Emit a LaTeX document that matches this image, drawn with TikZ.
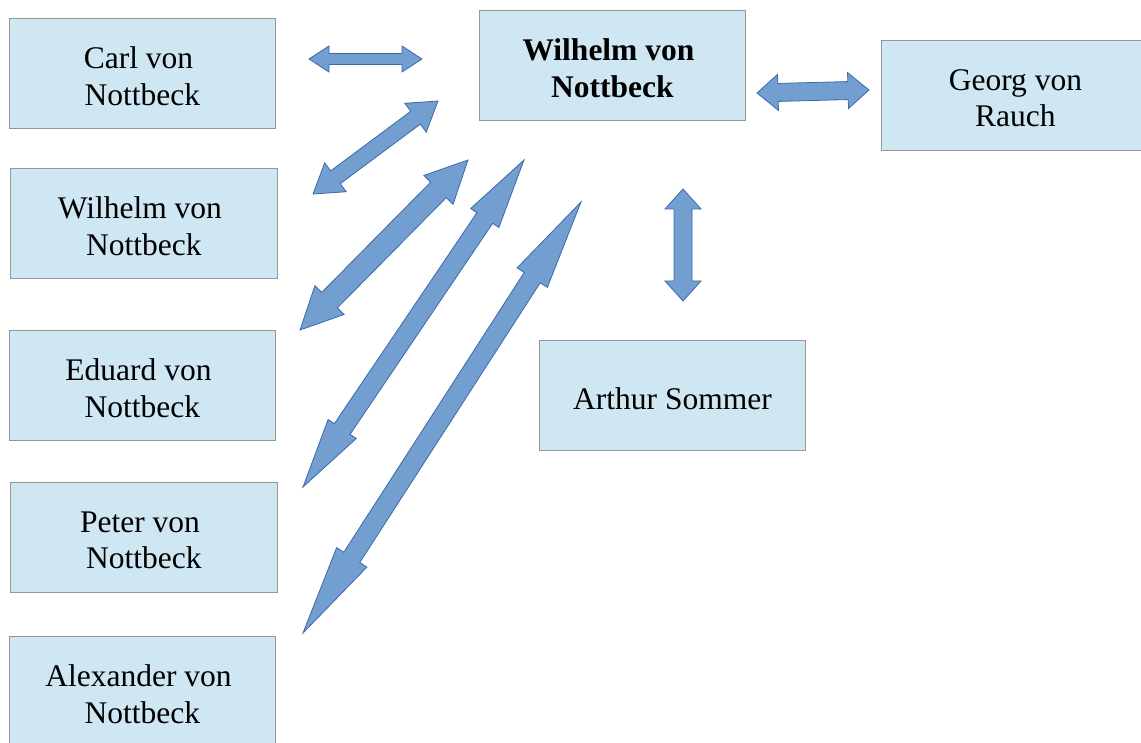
\documentclass[tikz,border=0pt]{standalone}
\usepackage{fontspec}
\setmainfont{Liberation Serif}
\usetikzlibrary{calc}
\definecolor{boxfill}{RGB}{207,230,243}
\definecolor{boxline}{RGB}{150,150,150}
\definecolor{arrfill}{RGB}{114,159,207}
\definecolor{arrline}{RGB}{60,105,170}
\newcommand\blockarr[5]{%
  \draw[blockarrow] (#1) -- ($(#1)!#5!(#2)!#4!90:(#2)$) -- ($(#1)!#5!(#2)!#3!90:(#2)$)
   -- ($(#2)!#5!(#1)!#3!-90:(#1)$) -- ($(#2)!#5!(#1)!#4!-90:(#1)$) -- (#2)
   -- ($(#2)!#5!(#1)!#4!90:(#1)$) -- ($(#2)!#5!(#1)!#3!90:(#1)$)
   -- ($(#1)!#5!(#2)!#3!-90:(#2)$) -- ($(#1)!#5!(#2)!#4!-90:(#2)$) -- cycle;}
\newcommand\trsp{\kern8pt}
\tikzset{
  person/.style={draw=boxline, line width=0.9pt, fill=boxfill, anchor=north west,
    minimum width=266pt, minimum height=110pt, inner sep=0pt},
  persontext/.style={align=center, yshift=-3pt, inner sep=0pt,
    font=\fontsize{31.5}{36.5}\selectfont},
  blockarrow/.style={fill=arrfill, draw=arrline, line width=0.8pt, line join=miter}
}
\begin{document}
\begin{tikzpicture}[x=1pt,y=-1pt]
\useasboundingbox (0,0) rectangle (1141,743);
\node[person] (carl) at (9,18) {};
\node[persontext] (carlt) at (carl.center) {Carl von\trsp\\Nottbeck};
\node[person, minimum width=267pt] (wl) at (10,168) {};
\node[persontext] (wlt) at (wl.center) {Wilhelm von\trsp\\Nottbeck};
\node[person] (ed) at (9,330) {};
\node[persontext] (edt) at (ed.center) {Eduard von\trsp\\Nottbeck};
\node[person, minimum width=267pt] (pe) at (10,482) {};
\node[persontext] (pet) at (pe.center) {Peter von\trsp\\Nottbeck};
\node[person] (al) at (9,636) {};
\node[persontext] (alt) at (al.center) {Alexander von\trsp\\Nottbeck};
\node[person] (wm) at (479,10) {};
\node[persontext, font=\fontsize{31.5}{36.5}\selectfont\bfseries] (wmt) at (wm.center) {Wilhelm von\trsp\\Nottbeck};
\node[person, minimum width=264pt] (ge) at (881,40) {};
\node[persontext, xshift=2pt] (get) at (ge.center) {Georg von\\Rauch};
\node[person] (ar) at (539,340) {};
\node[persontext] (art) at (ar.center) {Arthur Sommer};
% arrow end points
\coordinate (a1) at (309,59);  \coordinate (b1) at (422,59);
\coordinate (a2) at (757,93);  \coordinate (b2) at (869,90);
\coordinate (a3) at (683,189); \coordinate (b3) at (683,301);
\coordinate (a4) at (313,194); \coordinate (b4) at (438,101);
\coordinate (a5) at (300,330); \coordinate (b5) at (468,160);
\coordinate (a6) at (303,487); \coordinate (b6) at (524,160);
\coordinate (a7) at (303,633); \coordinate (b7) at (581,202);
\blockarr{a1}{b1}{5.5pt}{13pt}{20pt}
\blockarr{a2}{b2}{9pt}{18pt}{21pt}
\blockarr{a3}{b3}{9pt}{18pt}{20pt}
\blockarr{a4}{b4}{8pt}{18pt}{28pt}
\blockarr{a5}{b5}{11pt}{20.5pt}{42pt}
\blockarr{a6}{b6}{9.5pt}{17pt}{70pt}
\blockarr{a7}{b7}{9.5pt}{18pt}{90pt}
\end{tikzpicture}
\end{document}
